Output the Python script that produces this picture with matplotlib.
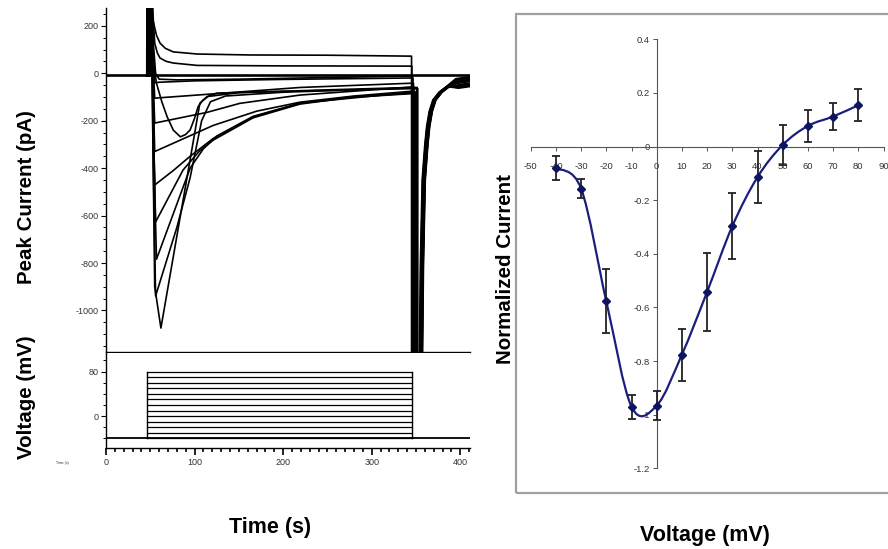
import numpy as np
import matplotlib
matplotlib.use("Agg")
import matplotlib.pyplot as plt
from matplotlib.path import Path
from matplotlib.patches import PathPatch, Rectangle
from matplotlib.ticker import MultipleLocator, FixedLocator

plt.rcParams['font.family'] = ['Liberation Sans', 'DejaVu Sans']
plt.rcParams['axes.unicode_minus'] = False

# ---------------- data: current traces (time s, current pA), key points
holding_current = -8
pulse_on = 46
pulse_off = 345
t_end = 411

# each trace starts right after the capacitive spike at pulse onset
trace_a = [(51, 420), (53, 224), (57, 160), (61, 127), (67, 105), (76, 90), (103, 81), (163, 77), (250, 76), (345, 72)]
trace_b = [(51, 420), (53, 250), (55, 127), (58, 85), (61, 64), (68, 50), (76, 43), (103, 33), (200, 31), (345, 30)]
trace_c = [(51, 420), (53, 150), (56, 0), (60, -25), (80, -28), (150, -25), (250, -18), (345, -12)]
trace_d = [(51, 420), (53, 100), (55, -40), (60, -38), (100, -32), (200, -26), (345, -20)]
trace_e = [(51, 420), (53, 50), (55, -105), (121, -87), (219, -60), (345, -42)]
trace_f = [(51, 420), (53, 0), (55, -210), (114, -165), (151, -127), (219, -92), (345, -58)]
trace_g = [(51, 420), (53, -50), (55, -330), (121, -220), (170, -160), (219, -122), (280, -96), (345, -76)]
trace_h = [(51, 420), (53, -100), (55, -471), (76, -410), (95, -350), (121, -275), (166, -184), (219, -127), (276, -100), (345, -84)]
trace_i = [(51, 420), (53, -150), (56, -627), (87, -408), (105, -330), (121, -282), (166, -188), (219, -130), (276, -102), (345, -86)]
trace_j = [(51, 420), (53, -200), (57, -784), (95, -400), (110, -318), (125, -265), (166, -182), (219, -126), (345, -80)]
trace_k = [(51, 420), (53, -300), (56, -939), (80, -650), (95, -440), (108, -200), (118, -120), (135, -96), (200, -80), (345, -62)]
trace_l = [(51, 420), (53, -300), (55, -900), (62, -1074), (91, -450), (106, -126), (115, -98), (150, -82), (250, -70), (345, -60)]
trace_m = [(51, 420), (53, 60), (57, -42), (63, -120), (69, -183), (76, -240), (84, -268), (90, -258), (95, -239), (100, -190), (104, -141), (109, -115), (114, -99), (125, -84), (180, -78), (345, -65)]

# time of the upward capacitive spike of each trace after pulse onset
onset_shift = [0.0, 0.6, 1.2, 1.8, 2.4, 3.0, 3.6, 4.2, 0.3, 0.9, 1.5, 2.1, 2.7]

# tail current after the pulse: drop time, rise shape, rise shift, final level
tail_drop = [0.0, 0.4, 1.0, 1.6, 2.2, 2.8, 3.4, 4.0, 4.6, 5.2, 5.8, 6.4, 7.0]
tail_t = [353, 355, 357, 360, 362, 365, 369, 376, 384, 395, 410]
tail_i = [-1500, -800, -450, -300, -225, -160, -113, -80, -57, -45, -38]
tail_shift = [0, 3, 1, 2.5, 0.5, 2, 1.5, 3.5, 0.8, 2.8, 1.2, 3.2, 2.2]
tail_end = [-15, -55, -25, -45, -20, -50, -30, -40, -35, -52, -18, -28, -45]

# voltage protocol
volt_steps = [80, 70, 60, 50, 40, 30, 20, 10, 0, -10, -20, -30, -40]
holding_voltage = -40

# ---------------- data: normalized I-V
iv_v = [-40, -30, -20, -10, 0, 10, 20, 30, 40, 50, 60, 70, 80]
iv_i = [-0.08, -0.157, -0.577, -0.970, -0.966, -0.776, -0.542, -0.297, -0.114, 0.006, 0.077, 0.112, 0.154]
iv_err = [0.045, 0.036, 0.12, 0.045, 0.053, 0.097, 0.145, 0.122, 0.096, 0.075, 0.061, 0.05, 0.059]

iv_xticks = [-50, -40, -30, -20, -10, 0, 10, 20, 30, 40, 50, 60, 70, 80, 90]
iv_yticks = [-1.2, -1.0, -0.8, -0.6, -0.4, -0.2, 0.0, 0.2, 0.4]
iv_ylabels = ['-1.2', '-1', '-0.8', '-0.6', '-0.4', '-0.2', '0', '0.2', '0.4']

# ---------------- figure
W, H = 888, 549
fig = plt.figure(figsize=(W / 100, H / 100), dpi=100)


def fx(px):
    return px / W


def fy(py):
    return 1 - py / H


# top axes (currents)
ax1 = fig.add_axes([fx(106), fy(352), fx(470) - fx(106), fy(8) - fy(352)])
ax1.set_xlim(0, t_end)
ax1.set_ylim(-1175, 275)
traces = [trace_a, trace_b, trace_c, trace_d, trace_e, trace_f, trace_g,
          trace_h, trace_i, trace_j, trace_k, trace_l, trace_m]
ax1.plot([0, t_end], [holding_current, holding_current], color='black', lw=1.9)
for k, tr in enumerate(traces):
    t0 = pulse_on + onset_shift[k]
    t = [pulse_on, t0, t0 + 0.3] + [p[0] for p in tr]
    y = [-10, -10, 420] + [p[1] for p in tr]
    # end of pulse: drop, tail
    td = pulse_off + tail_drop[k]
    end = tr[-1][1]
    t += [td, td] + [v + tail_shift[k] for v in tail_t[:-2]] + [tail_t[-2] + tail_shift[k], tail_t[-1] + tail_shift[k]]
    y += [end, -1500] + tail_i[:-2] + [tail_end[k] - 8, tail_end[k]]
    ax1.plot(t, y, color='black', lw=1.2, solid_joinstyle='round')
ax1.spines['top'].set_visible(False)
ax1.spines['right'].set_visible(False)
for s in ['left', 'bottom']:
    ax1.spines[s].set_linewidth(1.0)
ax1.set_xticks([])
ax1.yaxis.set_major_locator(FixedLocator([-1000, -800, -600, -400, -200, 0, 200]))
ax1.yaxis.set_minor_locator(MultipleLocator(50))
ax1.tick_params(axis='y', which='major', direction='out', length=3.5, width=0.8, pad=2, labelsize=6.5, labelcolor='#333333')
ax1.tick_params(axis='y', which='minor', direction='out', length=2, width=0.7)

# bottom axes (voltage protocol)
ax2 = fig.add_axes([fx(106), fy(448.3), fx(470) - fx(106), fy(352.7) - fy(448.3)])
ax2.set_xlim(0, t_end)
ax2.set_ylim(-58, 114)
ax2.plot([0, t_end], [holding_voltage, holding_voltage], color='black', lw=1.3)
for v in volt_steps:
    ax2.plot([pulse_on, pulse_off], [v, v], color='black', lw=0.9)
ax2.plot([pulse_on, pulse_on], [holding_voltage, max(volt_steps)], color='black', lw=1.0)
ax2.plot([pulse_off, pulse_off], [holding_voltage, max(volt_steps)], color='black', lw=1.0)
ax2.spines['top'].set_visible(False)
ax2.spines['right'].set_visible(False)
for s in ['left', 'bottom']:
    ax2.spines[s].set_linewidth(1.0)
ax2.xaxis.set_major_locator(MultipleLocator(100))
ax2.xaxis.set_minor_locator(MultipleLocator(10))
ax2.yaxis.set_major_locator(FixedLocator([0, 80]))
ax2.yaxis.set_minor_locator(MultipleLocator(20))
ax2.tick_params(axis='x', which='major', direction='out', length=5, width=1.2, pad=2, labelsize=6.5, labelcolor='#333333')
ax2.tick_params(axis='x', which='minor', direction='out', length=3, width=1.2)
ax2.tick_params(axis='y', which='major', direction='out', length=3.5, width=0.8, pad=2, labelsize=6.5, labelcolor='#333333')
ax2.tick_params(axis='y', which='minor', direction='out', length=2, width=0.7)

# labels left
fig.text(fx(27), fy(197), 'Peak Current (pA)', rotation=90, ha='center', va='center', fontsize=14.8, fontweight='bold')
fig.text(fx(27), fy(397), 'Voltage (mV)', rotation=90, ha='center', va='center', fontsize=14.8, fontweight='bold')
fig.text(fx(270), fy(527), 'Time (s)', ha='center', va='center', fontsize=15.5, fontweight='bold')
fig.text(fx(62), fy(463), 'Time (s)', ha='center', va='center', fontsize=2.5, color='#333333')

# ---------------- right panel
frame = Rectangle((fx(516), fy(493)), 1.2, fy(14) - fy(493), transform=fig.transFigure,
                  fill=False, edgecolor='#a0a0a0', lw=1.6, clip_on=False)
fig.add_artist(frame)

ax3 = fig.add_axes([fx(530.7), fy(468.3), fx(883.5) - fx(530.7), fy(39.3) - fy(468.3)])
ax3.set_xlim(-50, 90)
ax3.set_ylim(-1.2, 0.4)
ax3.patch.set_alpha(0)
ax3.spines['top'].set_visible(False)
ax3.spines['right'].set_visible(False)
ax3.spines['left'].set_position(('data', 0))
ax3.spines['bottom'].set_position(('data', 0))
for s in ['left', 'bottom']:
    ax3.spines[s].set_linewidth(0.8)
    ax3.spines[s].set_color('#555555')
ax3.xaxis.set_major_locator(FixedLocator(iv_xticks))
ax3.set_xticklabels([str(v) for v in iv_xticks])
ax3.yaxis.set_major_locator(FixedLocator(iv_yticks))
ax3.set_yticklabels(iv_ylabels)
ax3.tick_params(axis='x', direction='out', length=3, width=0.7, color='#555555', pad=8, labelsize=6.8, labelcolor='#333333')
ax3.tick_params(axis='y', direction='out', length=3, width=0.7, color='#555555', pad=2, labelsize=6.8, labelcolor='#333333')

# smoothed line through the points (Bezier path, Excel-style smoothing)
pts = np.column_stack([iv_v, iv_i])
verts = [tuple(pts[0])]
codes = [Path.MOVETO]
n = len(pts)
for i in range(n - 1):
    p0 = pts[i - 1] if i > 0 else pts[i]
    p1 = pts[i]
    p2 = pts[i + 1]
    p3 = pts[i + 2] if i + 2 < n else pts[i + 1]
    c1 = p1 + (p2 - p0) / 6.0
    c2 = p2 - (p3 - p1) / 6.0
    verts += [tuple(c1), tuple(c2), tuple(p2)]
    codes += [Path.CURVE4, Path.CURVE4, Path.CURVE4]
ax3.add_patch(PathPatch(Path(verts, codes), facecolor='none', edgecolor='#1a1f7a', lw=1.6, zorder=3))
ax3.errorbar(iv_v, iv_i, yerr=iv_err, fmt='none', ecolor='#222222', elinewidth=1.3, capsize=3.2, capthick=1.3, zorder=4)
ax3.plot(iv_v, iv_i, linestyle='none', marker='D', markersize=4.2, color='#0d1560', zorder=5)

fig.text(fx(505), fy(269.5), 'Normalized Current', rotation=90, ha='center', va='center', fontsize=14.8, fontweight='bold')
fig.text(fx(705), fy(536), 'Voltage (mV)', ha='center', va='center', fontsize=15.5, fontweight='bold')

fig.savefig('out.png', dpi=100)
